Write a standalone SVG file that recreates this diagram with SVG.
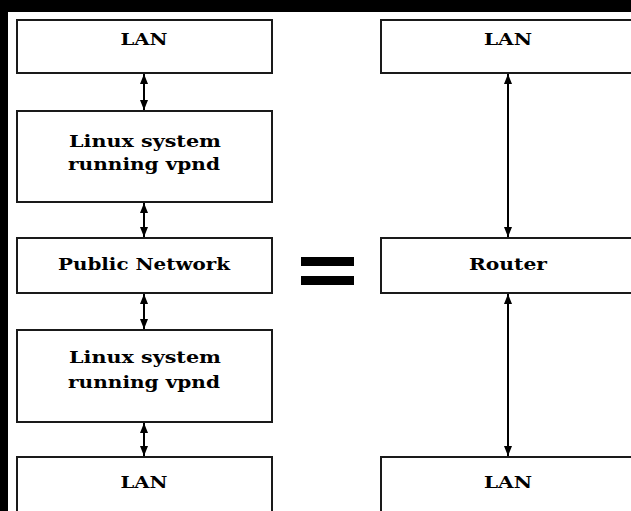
<svg xmlns="http://www.w3.org/2000/svg" width="631" height="511" viewBox="0 0 631 511">
  <style>
    .box { fill: #ffffff; stroke: #1a1a1a; stroke-width: 2; }
    .lbl { font-family: "DejaVu Serif", "Liberation Serif", serif; font-weight: bold; font-size: 17px; fill: #000000; text-anchor: middle; }
    .link { stroke: #000000; stroke-width: 2; fill: none; marker-start: url(#head); marker-end: url(#head); }
  </style>
  <defs>
    <marker id="head" viewBox="0 0 10 8" refX="10" refY="4" markerWidth="10" markerHeight="8" markerUnits="userSpaceOnUse" orient="auto-start-reverse">
      <path d="M0,0 L10,4 L0,8 Z" fill="#000000"/>
    </marker>
  </defs>

  <!-- page frame -->
  <rect x="0" y="0" width="631" height="511" fill="#000000"/>
  <rect x="8" y="12" width="623" height="499" fill="#ffffff"/>

  <!-- VPN chain -->
  <g id="lan-top-left">
    <rect class="box" x="17" y="20" width="255" height="53"/>
    <text class="lbl" x="144" y="45" textLength="47" lengthAdjust="spacingAndGlyphs">LAN</text>
  </g>
  <g id="vpnd-top">
    <rect class="box" x="17" y="111" width="255" height="91"/>
    <text class="lbl" x="145" y="147" textLength="152" lengthAdjust="spacingAndGlyphs">Linux system</text>
    <text class="lbl" x="144" y="170" textLength="152" lengthAdjust="spacingAndGlyphs">running vpnd</text>
  </g>
  <g id="public-network">
    <rect class="box" x="17" y="238" width="255" height="55"/>
    <text class="lbl" x="144" y="270" textLength="172" lengthAdjust="spacingAndGlyphs">Public Network</text>
  </g>
  <g id="vpnd-bottom">
    <rect class="box" x="17" y="330" width="255" height="92"/>
    <text class="lbl" x="145" y="363" textLength="152" lengthAdjust="spacingAndGlyphs">Linux system</text>
    <text class="lbl" x="144" y="388" textLength="152" lengthAdjust="spacingAndGlyphs">running vpnd</text>
  </g>
  <g id="lan-bottom-left">
    <rect class="box" x="17" y="457" width="255" height="70"/>
    <text class="lbl" x="144" y="488" textLength="47" lengthAdjust="spacingAndGlyphs">LAN</text>
  </g>

  <!-- equals sign -->
  <g id="equals">
    <rect x="301" y="257" width="53" height="9" fill="#000000"/>
    <rect x="301" y="276" width="53" height="9" fill="#000000"/>
  </g>

  <!-- routed equivalent -->
  <g id="lan-top-right">
    <rect class="box" x="381" y="20" width="260" height="53"/>
    <text class="lbl" x="508" y="45" textLength="48" lengthAdjust="spacingAndGlyphs">LAN</text>
  </g>
  <g id="router">
    <rect class="box" x="381" y="238" width="260" height="55"/>
    <text class="lbl" x="508" y="270" textLength="78" lengthAdjust="spacingAndGlyphs">Router</text>
  </g>
  <g id="lan-bottom-right">
    <rect class="box" x="381" y="457" width="260" height="70"/>
    <text class="lbl" x="508" y="488" textLength="48" lengthAdjust="spacingAndGlyphs">LAN</text>
  </g>

  <!-- connectors -->
  <g id="connectors">
    <line class="link" x1="144" y1="74" x2="144" y2="110"/>
    <line class="link" x1="144" y1="203" x2="144" y2="237"/>
    <line class="link" x1="144" y1="294" x2="144" y2="329"/>
    <line class="link" x1="144" y1="423" x2="144" y2="456"/>
    <line class="link" x1="508" y1="74" x2="508" y2="237"/>
    <line class="link" x1="508" y1="294" x2="508" y2="456"/>
  </g>
</svg>
